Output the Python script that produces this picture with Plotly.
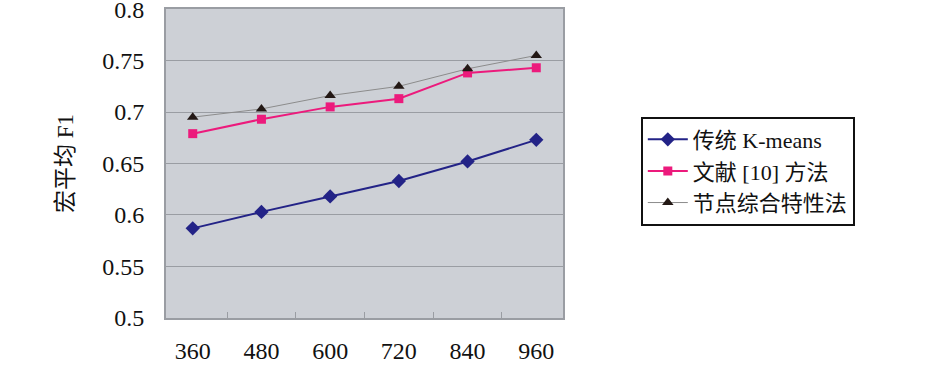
import plotly.graph_objects as go

categories = ["360", "480", "600", "720", "840", "960"]
kmeans = [0.587, 0.603, 0.618, 0.633, 0.652, 0.673]
ref10 = [0.679, 0.693, 0.705, 0.713, 0.738, 0.743]
node = [0.695, 0.703, 0.716, 0.725, 0.742, 0.755]
y_ticks = [0.5, 0.55, 0.6, 0.65, 0.7, 0.75, 0.8]
y_tick_text = ["0.5", "0.55", "0.6", "0.65", "0.7", "0.75", "0.8"]

FONT = "Liberation Serif, Times New Roman, Noto Sans CJK SC, serif"

fig = go.Figure()
fig.add_trace(go.Scatter(
    x=categories, y=kmeans, name="传统 K-means", mode="lines+markers",
    line=dict(color="#232387", width=2),
    marker=dict(symbol="diamond", size=11, color="#232387"),
))
fig.add_trace(go.Scatter(
    x=categories, y=ref10, name="文献 [10] 方法", mode="lines+markers",
    line=dict(color="#EC1A7C", width=2),
    marker=dict(symbol="square", size=9, color="#EC1A7C"),
))
fig.add_trace(go.Scatter(
    x=categories, y=node, name="节点综合特性法", mode="lines+markers",
    line=dict(color="#8C8C8C", width=1),
    marker=dict(symbol="triangle-up", size=10, color="#231815"),
))

fig.update_layout(
    width=945, height=367,
    margin=dict(l=166, r=382, t=9, b=49, autoexpand=False),
    paper_bgcolor="white",
    plot_bgcolor="#CDD0D6",
    font=dict(family=FONT, size=24, color="#111111"),
    showlegend=True,
    legend=dict(
        x=1.196, y=0.652, xanchor="left", yanchor="top",
        bordercolor="#111111", borderwidth=2, bgcolor="white",
        font=dict(family=FONT, size=22, color="#111111"),
        tracegroupgap=0, itemwidth=40,
    ),
    xaxis=dict(
        type="category",
        showgrid=False, automargin=False,
        showline=True, linecolor="#9A9DA3", linewidth=2, mirror=True,
        ticks="inside", tickson="boundaries", ticklen=6, tickcolor="#9A9DA3",
        ticklabelstandoff=10, ticklabeloverflow="allow",
        tickfont=dict(family=FONT, size=24),
        zeroline=False,
    ),
    yaxis=dict(
        range=[0.4999, 0.8001], automargin=False,
        tickvals=y_ticks, ticktext=y_tick_text,
        showgrid=True, gridcolor="#9A9DA3", gridwidth=1,
        showline=True, linecolor="#9A9DA3", linewidth=2, mirror=True,
        ticks="", ticklabelstandoff=15, ticklabeloverflow="allow",
        tickfont=dict(family=FONT, size=24),
        title=dict(text="宏平均 F1", font=dict(family=FONT, size=23), standoff=22),
        zeroline=False,
    ),
)

fig.write_html(
    "out.html",
    config={"displayModeBar": False},
    post_script="document.body.style.margin='0';document.body.style.padding='0';",
)
